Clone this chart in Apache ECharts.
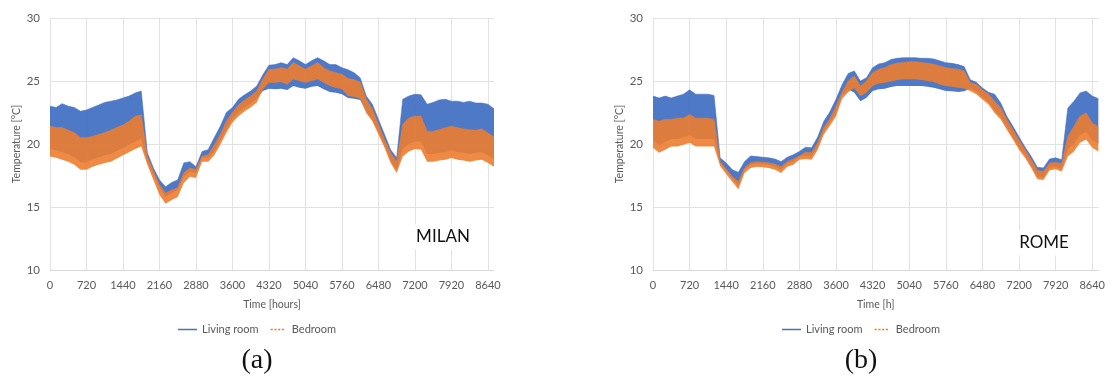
<!DOCTYPE html>
<html lang="en">
<head>
  <meta charset="UTF-8">
  <title>Indoor temperature - Milan / Rome</title>
  <script src="https://cdn.jsdelivr.net/npm/echarts@6/dist/echarts.min.js"></script>
  <style>
    html, body { margin: 0; padding: 0; background: #fff; }
    #app { width: 1108px; height: 376px; }
  </style>
</head>
<body>
  <div id="app"></div>
  <script>
    // hour of the year, one sample every 120 h (upper / lower envelope of the daily swing)
    var hours = [0, 120, 240, 360, 480, 600, 720, 840, 960, 1080, 1200, 1320, 1440, 1560, 1680, 1800,
      1920, 2040, 2160, 2280, 2400, 2520, 2640, 2760, 2880, 3000, 3120, 3240, 3360, 3480, 3600,
      3720, 3840, 3960, 4080, 4200, 4320, 4440, 4560, 4680, 4800, 4920, 5040, 5160, 5280, 5400,
      5520, 5640, 5760, 5880, 6000, 6120, 6240, 6360, 6480, 6600, 6720, 6840, 6960, 7080, 7200,
      7320, 7440, 7560, 7680, 7800, 7920, 8040, 8160, 8280, 8400, 8520, 8640, 8760]
    var yTicks = [10, 15, 20, 25, 30]

    // (a) Milan
    var milanLivingHi = [23.0, 22.9, 23.2, 23.0, 22.9, 22.6, 22.7, 22.9, 23.1, 23.3, 23.4, 23.5, 23.65, 23.8, 24.05, 24.2,
      19.3, 18.1, 17.15, 16.6, 16.95, 17.15, 18.5, 18.6, 18.2,
      19.4, 19.55, 20.5, 21.4, 22.5, 22.9, 23.55, 23.9, 24.2, 24.6,
      25.5, 26.25, 26.3, 26.45, 26.3, 26.85, 26.6, 26.3, 26.6, 26.85, 26.6, 26.3, 26.3, 26.05,
      25.9, 25.65, 25.25, 23.8, 23.15, 21.95, 20.75, 19.55, 18.9,
      23.55, 23.8, 23.95, 23.9, 23.15, 23.3, 23.5, 23.55, 23.4, 23.4, 23.3, 23.4, 23.25, 23.25, 23.15, 22.8]
    var milanLivingLo = [19.6, 19.5, 19.35, 19.2, 18.95, 18.55, 18.55, 18.8, 18.95, 19.1, 19.2, 19.45, 19.7, 19.95, 20.2, 20.4,
      18.6, 17.55, 16.5, 15.8, 16.1, 16.35, 17.4, 17.8, 17.7,
      18.9, 18.9, 19.4, 20.3, 21.2, 22.0, 22.5, 22.9, 23.2, 23.6,
      24.2, 24.39, 24.34, 24.39, 24.28, 24.6, 24.47, 24.39, 24.55, 24.6, 24.34, 24.12, 24.07, 23.94,
      23.65, 23.6, 23.5, 22.6, 21.95, 20.95, 19.9, 18.7, 17.9,
      19.6, 20.0, 20.2, 20.2, 19.2, 19.2, 19.3, 19.35, 19.5, 19.35, 19.3, 19.2, 19.3, 19.35, 19.1, 18.8]
    var milanBedHi = [21.4, 21.3, 21.3, 21.1, 20.9, 20.5, 20.5, 20.6, 20.75, 20.9, 21.1, 21.3, 21.5, 21.8, 22.2, 22.3,
      19.0, 17.85, 16.75, 16.1, 16.35, 16.5, 17.7, 18.1, 17.95,
      19.0, 19.15, 19.9, 20.75, 21.8, 22.5, 23.1, 23.5, 23.8, 24.2,
      25.13, 25.93, 25.93, 26.06, 25.93, 26.46, 26.2, 25.93, 26.2, 26.46, 26.06, 25.8, 25.66, 25.53,
      25.2, 25.1, 24.9, 23.55, 22.75, 21.55, 20.35, 19.3, 18.6,
      21.54, 22.07, 22.2, 22.2, 21.0, 21.0, 21.14, 21.28, 21.4, 21.28, 21.2, 21.14, 21.09, 21.2, 20.88, 20.56]
    var milanBedLo = [19.0, 18.9, 18.75, 18.6, 18.35, 17.95, 17.95, 18.2, 18.35, 18.5, 18.6, 18.85, 19.1, 19.35, 19.6, 19.8,
      18.35, 17.15, 15.95, 15.25, 15.55, 15.8, 16.9, 17.4, 17.3,
      18.6, 18.6, 19.1, 19.95, 20.9, 21.7, 22.2, 22.6, 22.9, 23.3,
      24.34, 24.87, 24.87, 24.92, 24.73, 25.13, 25.0, 24.87, 25.0, 25.13, 24.87, 24.6, 24.47, 24.34,
      23.8, 23.75, 23.6, 22.45, 21.8, 20.75, 19.7, 18.5, 17.7,
      19.0, 19.4, 19.6, 19.55, 18.6, 18.6, 18.7, 18.75, 18.88, 18.75, 18.7, 18.6, 18.7, 18.75, 18.5, 18.2]

    // (b) Rome
    var romeLivingHi = [23.8, 23.65, 23.8, 23.65, 23.8, 23.95, 24.3, 23.95, 23.95, 23.95, 23.85,
      18.9, 18.5, 17.95, 17.75, 18.6, 19.05, 19.0, 18.95, 18.9, 18.8, 18.6, 18.95, 19.15, 19.4,
      19.75, 19.7, 20.55, 21.8, 22.55, 23.55, 24.7, 25.6, 25.8, 25.0,
      25.25, 26.05, 26.35, 26.45, 26.7, 26.8, 26.85, 26.85, 26.85, 26.8, 26.8, 26.75, 26.6, 26.45,
      26.4, 26.3, 26.15, 25.1, 24.9, 24.45, 24.1, 23.95, 23.25, 22.2, 21.4, 20.55, 19.75, 19.0, 18.15, 18.1, 18.8, 18.9, 18.75,
      22.85, 23.4, 24.05, 24.2, 23.8, 23.6]
    var romeLivingLo = [20.3, 19.9, 20.15, 20.4, 20.4, 20.55, 20.7, 20.4, 20.4, 20.4, 20.4,
      18.5, 17.85, 17.25, 16.65, 17.95, 18.35, 18.45, 18.4, 18.35, 18.2, 17.95, 18.45, 18.6, 19.0,
      19.05, 19.0, 19.8, 21.0, 21.7, 22.45, 23.85, 24.35, 24.07, 23.4,
      23.67, 24.2, 24.34, 24.39, 24.52, 24.6, 24.6, 24.6, 24.6, 24.6, 24.55, 24.47, 24.34, 24.2,
      24.18, 24.12, 24.18, 24.4, 24.15, 23.75, 23.35, 22.65, 22.15, 21.35, 20.55, 19.75, 19.1, 18.3, 17.4, 17.35, 18.1, 18.2, 18.0,
      19.6, 20.0, 20.7, 20.95, 20.3, 20.0]
    var romeBedHi = [21.95, 21.8, 21.95, 21.95, 22.05, 22.05, 22.35, 22.05, 22.05, 22.05, 21.95,
      18.6, 18.0, 17.4, 17.0, 18.1, 18.5, 18.6, 18.55, 18.5, 18.4, 18.2, 18.6, 18.8, 19.05,
      19.35, 19.3, 20.1, 21.3, 22.0, 23.0, 24.1, 25.0, 25.4, 24.6,
      25.0, 25.66, 25.93, 26.06, 26.28, 26.41, 26.46, 26.52, 26.52, 26.46, 26.41, 26.33, 26.2, 26.06,
      25.98, 25.93, 25.8, 24.87, 24.73, 24.28, 23.94, 23.4, 22.87, 21.94, 21.14, 20.29, 19.55, 18.75, 17.9, 17.82, 18.48, 18.54, 18.43,
      20.6, 21.4, 22.2, 22.47, 21.67, 21.36]
    var romeBedLo = [19.7, 19.3, 19.55, 19.8, 19.8, 19.95, 20.1, 19.8, 19.8, 19.8, 19.8,
      18.25, 17.6, 17.0, 16.4, 17.7, 18.1, 18.2, 18.15, 18.1, 17.95, 17.7, 18.2, 18.35, 18.75,
      18.8, 18.75, 19.55, 20.75, 21.45, 22.2, 23.6, 24.1, 24.45, 23.8,
      24.07, 24.6, 24.81, 24.87, 24.97, 25.08, 25.13, 25.13, 25.13, 25.08, 25.0, 24.92, 24.73, 24.6,
      24.55, 24.47, 24.41, 24.2, 23.94, 23.54, 23.14, 22.47, 21.94, 21.14, 20.35, 19.55, 18.88, 18.1, 17.2, 17.15, 17.9, 18.0, 17.82,
      19.0, 19.4, 20.1, 20.35, 19.7, 19.4]

    var BLUE = '#4472C4'
    var ORANGE = '#ED7D31'
    var GREY = '#595959'
    var GRID_LINE = '#e2e2e2'

    // a band = invisible lower line + stacked (hi - lo) area on top of it
    function band(name, lo, hi, color, opacity, stack, idx) {
      var diff = hi.map(function (v, i) { return +(v - lo[i]).toFixed(2) })
      return [
        {
          name: name + ' min', type: 'line', xAxisIndex: idx, yAxisIndex: idx, stack: stack,
          data: lo, symbol: 'none', silent: true, lineStyle: { opacity: 0 }
        },
        {
          name: name, type: 'line', xAxisIndex: idx, yAxisIndex: idx, stack: stack,
          data: diff, symbol: 'none', silent: true,
          itemStyle: { color: color },
          lineStyle: { color: color, width: 0.6 },
          areaStyle: { color: color, opacity: opacity }
        }
      ]
    }

    function xAxis(idx, title) {
      return {
        type: 'category', gridIndex: idx, data: hours, boundaryGap: false,
        axisLine: { lineStyle: { color: '#d9d9d9' } },
        axisTick: { show: false },
        axisLabel: { interval: 5, color: GREY, fontSize: 11, fontFamily: 'Lato', margin: 10 },
        splitLine: { show: true, interval: 5, lineStyle: { color: GRID_LINE } },
        name: title, nameLocation: 'middle', nameGap: 29,
        nameTextStyle: { color: GREY, fontSize: 10.5, fontFamily: 'Lato' }
      }
    }

    function yAxis(idx) {
      return {
        type: 'value', gridIndex: idx, min: yTicks[0], max: yTicks[yTicks.length - 1], interval: 5,
        axisLine: { show: false }, axisTick: { show: false },
        axisLabel: { color: GREY, fontSize: 11.5, fontFamily: 'Lato', margin: 10 },
        splitLine: { lineStyle: { color: GRID_LINE } },
        name: 'Temperature [°C]', nameLocation: 'middle', nameGap: 28,
        nameTextStyle: { color: GREY, fontSize: 10.5, fontFamily: 'Lato' }
      }
    }

    var dashIcon = 'path://M0,0H3V2H0Z M5,0H8V2H5Z M10,0H13V2H10Z M15,0H18V2H15Z'
    function legend(left) {
      return {
        left: left, top: 319, itemWidth: 19, itemHeight: 1.5, itemGap: 12,
        selectedMode: false,
        textStyle: { color: GREY, fontSize: 11, fontFamily: 'Lato' },
        data: [{ name: 'Living room', icon: 'rect' }, { name: 'Bedroom', icon: dashIcon }]
      }
    }

    var series = [].concat(
      band('Living room', milanLivingLo, milanLivingHi, BLUE, 0.95, 'mLiving', 0),
      band('Bedroom', milanBedLo, milanBedHi, ORANGE, 0.9, 'mBed', 0),
      band('Living room', romeLivingLo, romeLivingHi, BLUE, 0.95, 'rLiving', 1),
      band('Bedroom', romeBedLo, romeBedHi, ORANGE, 0.9, 'rBed', 1)
    )

    function label(text, x, y, font, bg) {
      return {
        type: 'text', z: 100,
        style: {
          text: text, x: x, y: y, textAlign: 'center', textVerticalAlign: 'middle',
          font: font, fill: '#111', backgroundColor: bg, padding: bg ? [4, 8] : 0
        }
      }
    }

    var chart = echarts.init(document.getElementById('app'))
    chart.setOption({
      animation: false,
      grid: [
        { left: 50, top: 18, width: 444, height: 252 },
        { left: 653, top: 18, width: 446, height: 252 }
      ],
      xAxis: [xAxis(0, 'Time [hours]'), xAxis(1, 'Time [h]')],
      yAxis: [yAxis(0), yAxis(1)],
      legend: [legend(173), legend(777)],
      series: series,
      graphic: [
        label('MILAN', 443, 237, '17px Lato', '#fff'),
        label('ROME', 1044, 243, '17px Lato', '#fff'),
        label('(a)', 257, 361, '28px "Liberation Serif"'),
        label('(b)', 861, 361, '28px "Liberation Serif"')
      ]
    })
  </script>
</body>
</html>
